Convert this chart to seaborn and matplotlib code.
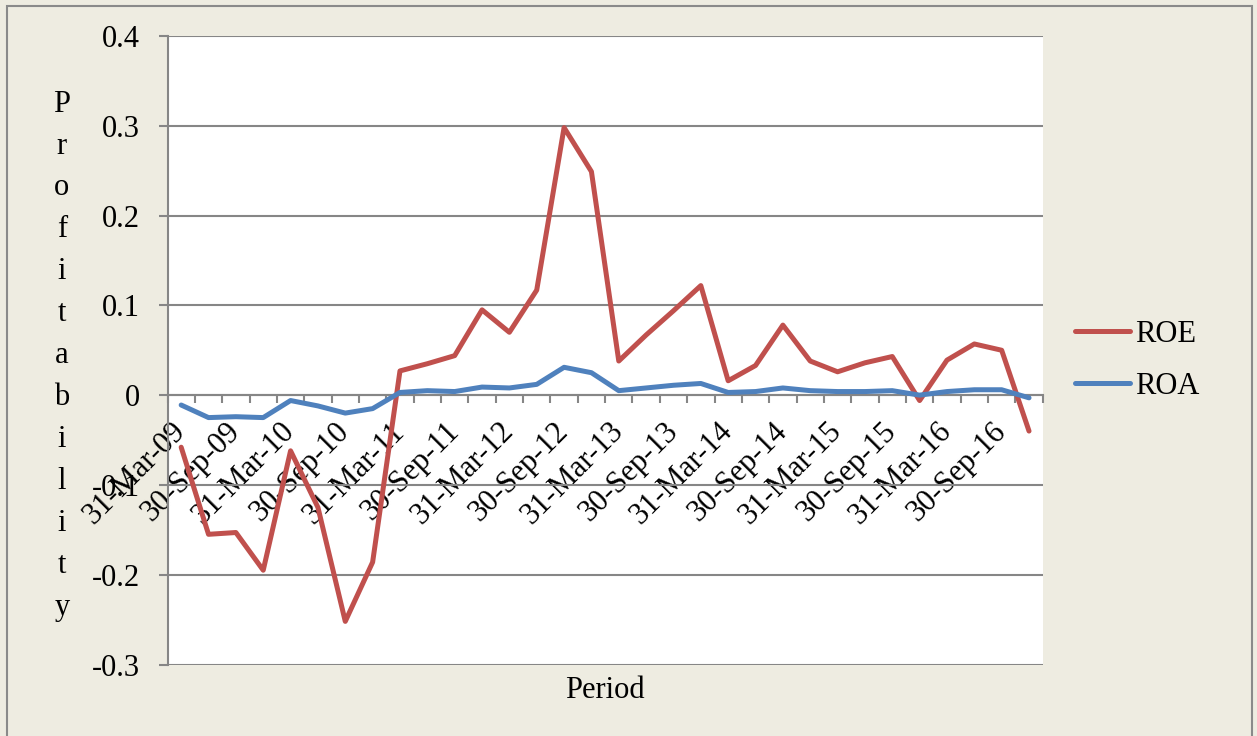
import numpy as np
import pandas as pd
import matplotlib
matplotlib.use("Agg")
import matplotlib.pyplot as plt
from matplotlib.patches import Rectangle
from matplotlib.ticker import FuncFormatter
import seaborn as sns

# Quarter-end reporting dates
periods = [
    "31-Mar-09", "30-Jun-09", "30-Sep-09", "31-Dec-09",
    "31-Mar-10", "30-Jun-10", "30-Sep-10", "31-Dec-10",
    "31-Mar-11", "30-Jun-11", "30-Sep-11", "31-Dec-11",
    "31-Mar-12", "30-Jun-12", "30-Sep-12", "31-Dec-12",
    "31-Mar-13", "30-Jun-13", "30-Sep-13", "31-Dec-13",
    "31-Mar-14", "30-Jun-14", "30-Sep-14", "31-Dec-14",
    "31-Mar-15", "30-Jun-15", "30-Sep-15", "31-Dec-15",
    "31-Mar-16", "30-Jun-16", "30-Sep-16", "31-Dec-16",
]

# Return on equity per quarter
roe = [-0.058, -0.155, -0.153, -0.195, -0.062, -0.125, -0.252, -0.186,
       0.027, 0.035, 0.044, 0.095, 0.070, 0.117, 0.298, 0.249,
       0.038, 0.067, 0.094, 0.122, 0.016, 0.033, 0.078, 0.038,
       0.026, 0.036, 0.043, -0.006, 0.039, 0.057, 0.050, -0.040]

# Return on assets per quarter
roa = [-0.011, -0.025, -0.024, -0.025, -0.006, -0.012, -0.020, -0.015,
       0.003, 0.005, 0.004, 0.009, 0.008, 0.012, 0.031, 0.025,
       0.005, 0.008, 0.011, 0.013, 0.003, 0.004, 0.008, 0.005,
       0.004, 0.004, 0.005, 0.000, 0.004, 0.006, 0.006, -0.003]

series_names = ["ROE", "ROA"]
y_ticks = [-0.3, -0.2, -0.1, 0.0, 0.1, 0.2, 0.3, 0.4]

BG = "#EEECE1"
GRID = "#868686"
RED = "#C0504D"
BLUE = "#4F81BD"

sns.set_theme(style="white")
plt.rcParams["font.family"] = ["Liberation Serif", "DejaVu Serif"]
plt.rcParams["axes.unicode_minus"] = False
plt.rcParams["text.color"] = "black"
plt.rcParams["axes.labelcolor"] = "black"
plt.rcParams["xtick.labelcolor"] = "black"
plt.rcParams["ytick.labelcolor"] = "black"

W, H = 1257, 736
fig = plt.figure(figsize=(W / 100, H / 100), dpi=100, facecolor=BG)
ax_l, ax_r, ax_t, ax_b = 167.5, 1042.7, 36.0, 664.5
ax = fig.add_axes([ax_l / W, 1 - ax_b / H, (ax_r - ax_l) / W, (ax_b - ax_t) / H])
ax.set_facecolor("white")

n = len(periods)
df = pd.DataFrame({
    "Order": list(range(n)) * 2,
    "Period": periods * 2,
    "Profitability": roe + roa,
    "Series": [series_names[0]] * n + [series_names[1]] * n,
})

sns.lineplot(data=df, x="Order", y="Profitability", hue="Series",
             hue_order=series_names, palette={"ROE": RED, "ROA": BLUE},
             sort=False, linewidth=3.6, ax=ax, zorder=3,
             solid_capstyle="round", solid_joinstyle="round")

# Axes limits and gridlines
ax.set_xlim(-0.5, n - 0.5)
ax.set_ylim(-0.3, 0.4)
ax.set_yticks(y_ticks)
ax.yaxis.set_major_formatter(FuncFormatter(lambda v, _: "0" if abs(v) < 1e-9 else f"{v:.1f}"))
ax.set_axisbelow(True)
ax.grid(axis="y", color=GRID, linewidth=1.5)
ax.grid(axis="x", visible=False)

for s in ("top", "right"):
    ax.spines[s].set_visible(False)
ax.spines["left"].set_color(GRID)
ax.spines["left"].set_linewidth(1.5)
ax.spines["bottom"].set_position(("data", 0))
ax.spines["bottom"].set_color(GRID)
ax.spines["bottom"].set_linewidth(1.5)

# Category axis: labels every second quarter, tick marks between quarters
ax.set_xticks(range(0, n, 2))
ax.set_xticklabels(periods[::2], rotation=45, ha="right", va="center",
                   rotation_mode="anchor", fontsize=22, color="black")
ax.set_xticks(np.arange(-0.5, n, 1.0), minor=True)
ax.tick_params(axis="x", which="major", length=0, pad=23)
ax.tick_params(axis="x", which="minor", length=5.8, width=1.5, color=GRID,
               direction="out", bottom=True)
ax.tick_params(axis="y", length=6.5, width=1.5, color=GRID, direction="out",
               pad=13.5, labelsize=22, labelcolor="black", left=True)

ax.set_xlabel("Period", fontsize=22, color="black")
ax.xaxis.set_label_coords(0.5, -0.042)
ax.xaxis.label.set_va("center")

ax.set_ylabel("\n".join("Profitability"), fontsize=22, rotation=0,
              ha="center", va="center", linespacing=1.59, color="black")
ax.yaxis.set_label_coords(-0.1206, 0.491)

# Legend outside the plot area
handles, labels = ax.get_legend_handles_labels()
ax.get_legend().remove()
leg = fig.legend(handles, labels, loc="center left",
                 bbox_to_anchor=(1075 / W, 1 - 360.5 / H), frameon=False,
                 fontsize=22, handlelength=1.8, handletextpad=0.15,
                 labelspacing=0.75, borderpad=0, borderaxespad=0)
for text in leg.get_texts():
    text.set_color("black")
for line in leg.get_lines():
    line.set_linewidth(3.6)
    line.set_solid_capstyle("round")

# Chart-area border
fig.patches.append(Rectangle((7 / W, -0.02), (1252 - 7) / W, 1 - 5.5 / H + 0.02,
                             transform=fig.transFigure, fill=False,
                             edgecolor="#8A8A8A", linewidth=1.5))

fig.savefig("out.png", dpi=100, facecolor=BG)
